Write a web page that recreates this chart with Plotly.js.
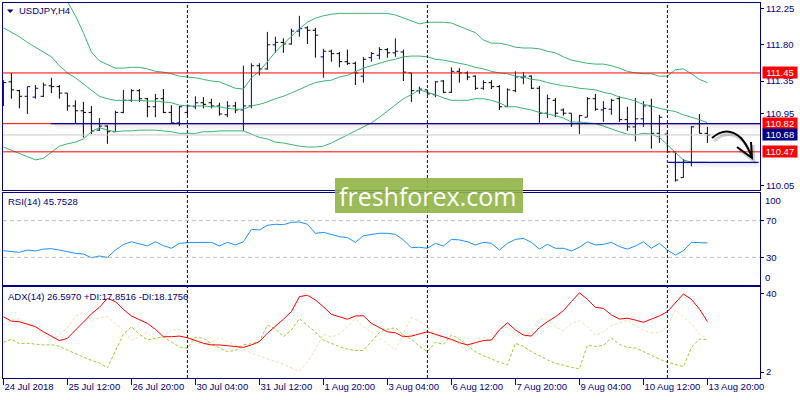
<!DOCTYPE html>
<html><head><meta charset="utf-8">
<script src="https://cdn.plot.ly/plotly-3.0.1.min.js"></script>
<style>html,body{margin:0;padding:0;background:#fff}#chart{width:800px;height:400px}</style>
</head><body><div id="chart"></div>
<script>
// ---- data (USDJPY H4, bar 0 = 24 Jul 2018 04:00) ----
const open = [111.11,111.34,111.23,111.16,111.15,111.16,111.29,111.28,111.20,111.04,
110.98,110.96,110.74,110.79,110.72,110.96,111.11,111.23,111.13,111.03,
111.13,110.96,110.83,110.96,111.03,111.08,111.08,111.04,110.93,111.04,
110.99,111.04,111.54,111.50,111.80,111.83,111.81,111.97,112.01,111.98,
111.65,111.72,111.69,111.59,111.57,111.41,111.64,111.67,111.74,111.70,
111.71,111.45,111.23,111.24,111.18,111.35,111.21,111.47,111.45,111.41,
111.26,111.33,111.28,111.03,111.23,111.39,111.41,111.26,110.95,111.11,
110.99,110.95,110.82,110.90,111.13,110.99,111.00,111.13,110.87,110.78,
110.88,111.04,110.70,110.69,110.47,110.15,110.34,110.82,110.70];
const high = [111.36,111.45,111.24,111.28,111.30,111.33,111.39,111.30,111.20,111.11,
111.09,111.04,110.89,110.80,110.98,111.24,111.25,111.25,111.14,111.19,
111.25,111.05,111.04,111.06,111.16,111.15,111.13,111.08,111.10,111.09,
111.54,111.57,111.57,111.96,111.90,111.88,112.00,112.16,112.03,112.01,
111.75,111.74,111.71,111.74,111.59,111.65,111.71,111.77,111.76,111.88,
111.74,111.45,111.28,111.24,111.35,111.36,111.52,111.51,111.47,111.42,
111.36,111.36,111.30,111.26,111.47,111.46,111.42,111.29,111.18,111.14,
111.01,110.95,110.93,111.15,111.19,111.10,111.13,111.16,111.03,111.14,
111.10,111.13,110.93,110.73,110.47,110.38,110.79,110.94,110.78];
const low = [111.04,111.13,111.01,110.94,111.13,111.15,111.20,111.13,110.98,110.82,
110.65,110.69,110.73,110.57,110.72,110.95,111.09,111.09,110.90,110.90,
110.95,110.83,110.79,110.92,111.00,111.01,111.01,110.92,110.90,110.95,
110.73,111.01,111.42,111.49,111.70,111.70,111.80,111.90,111.81,111.64,
111.39,111.59,111.52,111.55,111.30,111.33,111.59,111.62,111.64,111.65,
111.35,111.09,111.19,111.18,111.15,111.20,111.20,111.33,111.36,111.24,
111.24,111.25,110.99,111.03,111.21,111.31,111.25,110.83,110.89,110.90,
110.92,110.78,110.69,110.90,110.98,110.84,110.93,110.84,110.73,110.60,
110.78,110.51,110.58,110.46,110.10,110.15,110.29,110.70,110.58];
const close = [111.33,111.24,111.16,111.28,111.26,111.30,111.28,111.20,111.04,110.98,
110.96,110.73,110.79,110.72,110.96,111.11,111.23,111.13,111.03,111.13,
110.96,110.83,111.03,111.04,111.08,111.06,111.04,110.94,111.04,110.99,
111.04,111.54,111.50,111.80,111.83,111.81,111.97,112.00,111.98,111.92,
111.72,111.69,111.59,111.57,111.45,111.62,111.69,111.74,111.70,111.72,
111.46,111.23,111.25,111.19,111.34,111.21,111.47,111.45,111.40,111.26,
111.33,111.28,111.03,111.24,111.40,111.41,111.26,110.95,111.13,110.95,
110.95,110.82,110.92,111.13,111.00,111.01,111.11,110.87,110.78,110.88,
111.04,110.70,110.90,110.47,110.12,110.36,110.78,110.70,110.68];
const bbUpper = [112.85,112.85,112.83,112.80,112.77,112.70,112.60,112.48,112.34,112.16,
111.95,111.71,111.60,111.55,111.51,111.51,111.52,111.52,111.50,111.47,
111.46,111.44,111.41,111.40,111.39,111.37,111.35,111.34,111.30,111.26,
111.25,111.39,111.47,111.59,111.71,111.81,111.91,112.00,112.08,112.13,
112.16,112.18,112.19,112.19,112.19,112.19,112.19,112.19,112.19,112.17,
112.13,112.10,112.06,112.08,112.08,112.08,112.07,112.03,112.00,111.95,
111.86,111.82,111.82,111.80,111.77,111.76,111.76,111.75,111.72,111.70,
111.65,111.61,111.59,111.57,111.56,111.56,111.54,111.51,111.47,111.45,
111.44,111.44,111.41,111.41,111.49,111.50,111.44,111.37,111.33];
const bbMiddle = [112.01,111.96,111.90,111.83,111.77,111.72,111.65,111.54,111.45,111.39,
111.31,111.24,111.16,111.13,111.11,111.11,111.11,111.11,111.10,111.10,
111.09,111.08,111.05,111.04,111.04,111.04,111.03,111.03,111.01,111.00,
111.00,111.04,111.06,111.09,111.13,111.16,111.20,111.25,111.29,111.33,
111.35,111.36,111.40,111.42,111.47,111.51,111.54,111.57,111.60,111.62,
111.65,111.66,111.66,111.65,111.62,111.61,111.59,111.57,111.55,111.52,
111.50,111.47,111.45,111.44,111.41,111.40,111.37,111.36,111.33,111.31,
111.29,111.28,111.26,111.25,111.24,111.21,111.19,111.15,111.13,111.10,
111.06,111.04,111.01,110.99,110.97,110.93,110.90,110.87,110.83];
const bbLower = [110.53,110.49,110.46,110.42,110.37,110.39,110.47,110.54,110.57,110.59,
110.63,110.72,110.77,110.74,110.72,110.73,110.73,110.74,110.74,110.74,
110.73,110.72,110.70,110.70,110.70,110.72,110.72,110.73,110.73,110.73,
110.73,110.69,110.65,110.63,110.59,110.58,110.56,110.54,110.53,110.53,
110.54,110.58,110.63,110.68,110.73,110.78,110.83,110.90,110.98,111.05,
111.13,111.18,111.24,111.21,111.18,111.14,111.11,111.11,111.11,111.13,
111.13,111.11,111.08,111.03,111.03,111.01,110.99,110.96,110.94,110.92,
110.89,110.84,110.84,110.83,110.82,110.79,110.75,110.72,110.69,110.68,
110.70,110.69,110.65,110.56,110.46,110.37,110.34,110.34,110.34];
const rsi = [37.3,36.5,35.5,38,37,39,39.5,38,36,34.4,
33.7,29.7,31.5,30,38,44,47,45,42.4,47,
42.8,39.9,45.3,46,46.4,46.4,46.4,42.4,46.4,43.5,
47,60.5,59.8,64.9,66,65.6,68.1,68.5,66,56.2,
57.2,55,52.5,51.5,46.4,53.6,55,56.2,56.2,55,
49,40.6,41,39.9,45.3,42.4,49.6,49,47,43.5,
46.4,45.3,38,45.3,49.6,50.7,46.4,39,44.2,39.9,
39.9,37,41,47,43.5,44.2,46.4,41.7,39,42.4,
47,39.9,45.3,38,32.6,37.3,46.4,46,45.75];
const adx = [28.9,26.8,26.5,25.4,24.1,21.6,19.5,17.3,18.4,22.5,
26.5,30.3,33.5,37.9,36.3,32.5,29.3,27.3,25.7,22.8,
19.2,19.2,19.5,18.7,17.3,16,15.2,15.2,14.8,14.3,
14,15.2,16.8,20.9,24.1,27.7,31.4,38.7,39.4,37.1,
33.8,30.1,28.9,27.7,29.3,29.4,25.7,23.8,21.6,21.1,
19.2,19.5,20.5,21.6,20.4,19.2,17.9,16.3,15.2,16.3,
17.3,17.6,22.5,26,22.5,20,19.5,23.6,26.5,28.9,
31.9,36.3,40.6,37.4,33.5,33,29.8,27.8,28.2,27.3,
26.2,27.8,29.3,31.4,35.8,40,37.4,32.7,26.6];
const plusDI = [16.5,18,15.8,16,15.6,15.2,15.3,14.5,12.7,10.9,
9.3,7.7,6.4,4.1,12,20.5,24,20.5,17.6,18.5,
19.2,16.6,14.2,13.6,19,18.4,15.8,13.7,12,12.5,
15.2,15.8,16.7,24.9,23,19.2,22.5,28,24.8,21.5,
17.5,15.8,14.4,13.2,12.5,12.5,17,21.3,22.8,23.6,
20,18,14.5,11.9,16.5,15.5,20,18,15,11.9,
10,8.3,6.8,5.5,16,14.5,12,10,7.9,6.3,
5.2,4.3,3.6,15,14.5,15,18.5,15.5,14,13.7,
12,10,8.3,6.8,5.7,4.6,14,18,17.85];
const minusDI = [24.9,27.3,28,25.5,23.8,20.5,18,19.8,23.5,29,
31,27,28.5,29,25.5,22.5,17.5,19,21.5,17.8,
19,22.5,22.7,20,16.5,15.2,16.5,18.8,17,15,
13,11.3,9.8,8.4,7.3,5.8,4,2.4,7,13,
20.5,19,20.5,24,28,24,21.5,18.7,15.5,12.7,
20.9,28.5,26.8,24,20,19,17.5,15.5,11.9,17.6,
19,17,23,24,21,18,22,28,27.5,24,
22,25.7,27,24.1,20,21.5,24.5,26,27.3,24.5,
22.5,21,21.3,24,32.2,28.8,25.5,20.5,18.18];
const tickBars = [0,8,16,24,32,40,48,56,64,72,80,88];
const tickLabels = ['24 Jul 2018','25 Jul 12:00','26 Jul 20:00','30 Jul 04:00','31 Jul 12:00','1 Aug 20:00',
  '3 Aug 04:00','6 Aug 12:00','7 Aug 20:00','9 Aug 04:00','10 Aug 12:00','13 Aug 20:00'];
const weekStarts = [23,53,83];
const priceTicks = [112.25,111.80,111.35,110.95,110.05];
const redLevels = [111.45,110.82,110.47];
const bidLevel = 110.68;
const trendLevel = 110.82;
const supportLevel = 110.34;

// ---- layout helpers ----
const W=800,H=400,L=3,R=40,T=3,B=22;
const PW=W-L-R, PH=H-T-B;
const px=x=>(x-L)/PW, py=y=>(H-B-y)/PH;
const idx=open.map((_,i)=>i);
const NAVY='#000080', FONT='Liberation Sans, Arial, sans-serif';
const xr=[-0.05,-0.05+PW/8];

const traces=[
 {type:'ohlc',x:idx,open:open,high:high,low:low,close:close,xaxis:'x',yaxis:'y',tickwidth:0.35,
  increasing:{line:{color:'#00008b',width:1}},decreasing:{line:{color:'#000000',width:1}},hoverinfo:'skip'},
 {type:'scatter',mode:'lines',x:idx,y:bbUpper,xaxis:'x',yaxis:'y',line:{color:'#3cb371',width:1}},
 {type:'scatter',mode:'lines',x:idx,y:bbMiddle,xaxis:'x',yaxis:'y',line:{color:'#3cb371',width:1}},
 {type:'scatter',mode:'lines',x:idx,y:bbLower,xaxis:'x',yaxis:'y',line:{color:'#3cb371',width:1}},
 {type:'scatter',mode:'lines',x:idx,y:rsi,xaxis:'x2',yaxis:'y2',line:{color:'#1e90ff',width:1}},
 {type:'scatter',mode:'lines',x:idx,y:minusDI,xaxis:'x3',yaxis:'y3',line:{color:'#f5deb3',width:1,dash:'3px,2px'}},
 {type:'scatter',mode:'lines',x:idx,y:plusDI,xaxis:'x3',yaxis:'y3',line:{color:'#9acd32',width:1,dash:'3px,2px'}},
 {type:'scatter',mode:'lines',x:idx,y:adx,xaxis:'x3',yaxis:'y3',line:{color:'#ff0000',width:1}}
];

const tf={family:FONT,size:9.5,color:NAVY};
const xbase={range:xr,showline:true,mirror:true,linecolor:NAVY,linewidth:1,showgrid:false,zeroline:false,
  showticklabels:false,ticks:'',fixedrange:true};
const ybase={side:'right',showline:true,mirror:true,linecolor:NAVY,linewidth:1,showgrid:false,zeroline:false,
  ticks:'outside',ticklen:3,tickcolor:NAVY,tickfont:tf,fixedrange:true};

const shapes=[];
weekStarts.forEach(b=>shapes.push({type:'line',xref:'x',yref:'paper',x0:b,x1:b,y0:0,y1:1,
  line:{color:NAVY,width:1,dash:'3px,2px'}}));
shapes.push({type:'line',xref:'paper',yref:'y',x0:0,x1:1,y0:bidLevel,y1:bidLevel,line:{color:'#c8c8c8',width:1}});
redLevels.forEach(v=>shapes.push({type:'line',xref:'paper',yref:'y',x0:0,x1:1,y0:v,y1:v,line:{color:'#ff0000',width:1}}));
// shadows + navy trend lines
[[trendLevel,5.9,xr[1]],[supportLevel,83.1,94.4]].forEach(([v,a,b])=>{
  for(let k=1;k<=5;k++){
    shapes.push({type:'line',xref:'x',yref:'y',ysizemode:'pixel',yanchor:v,x0:a+0.5,x1:b,y0:-k,y1:-k,
      line:{color:'rgba(0,0,0,'+(0.07-0.011*k).toFixed(3)+')',width:1.5}});
  }
  shapes.push({type:'line',xref:'x',yref:'y',x0:a,x1:b,y0:v,y1:v,line:{color:'#0000a0',width:1.2}});
});
// RSI levels
[70,30].forEach(v=>shapes.push({type:'line',xref:'paper',yref:'y2',x0:0,x1:1,y0:v,y1:v,
  line:{color:'#c0c0c0',width:1,dash:'4px,3px'}}));
// symbol triangle
shapes.push({type:'path',xref:'paper',yref:'paper',
  path:`M ${px(7)} ${py(9.5)} L ${px(13.5)} ${py(9.5)} L ${px(10.2)} ${py(13)} Z`,fillcolor:NAVY,line:{width:0}});
// hand-drawn arrow
function arrowPath(dx,dy){
  const P=(x,y)=>`${px(x+dx)},${py(y+dy)}`;
  return `M ${P(712,138)} Q ${P(727,125)} ${P(741,138)} Q ${P(748,146)} ${P(752,158)} M ${P(737,147)} L ${P(752,158)} L ${P(751,142)}`;
}
shapes.push({type:'path',xref:'paper',yref:'paper',path:arrowPath(2,3),line:{color:'rgba(0,0,0,0.18)',width:3}});
shapes.push({type:'path',xref:'paper',yref:'paper',path:arrowPath(0,0),line:{color:'#000000',width:2}});
// watermark box
shapes.push({type:'rect',xref:'paper',yref:'paper',x0:px(335),x1:px(523),y0:py(213),y1:py(178),
  fillcolor:'rgba(144,179,70,0.9)',line:{width:0}});

const annotations=[
 {xref:'paper',yref:'paper',x:px(17),y:py(11),xanchor:'left',yanchor:'middle',text:'USDJPY,H4',showarrow:false,font:tf},
 {xref:'paper',yref:'paper',x:px(6),y:py(201.5),xanchor:'left',yanchor:'middle',text:'RSI(14) 45.7528',showarrow:false,font:tf},
 {xref:'paper',yref:'paper',x:px(6),y:py(296.5),xanchor:'left',yanchor:'middle',text:'ADX(14) 26.5970 +DI:17.8516 -DI:18.1756',showarrow:false,font:tf},
 {xref:'paper',yref:'y2',x:1,y:100,xanchor:'left',yanchor:'top',xshift:3,text:'100',showarrow:false,font:tf},
 {xref:'paper',yref:'y2',x:1,y:0,xanchor:'left',yanchor:'bottom',xshift:3,text:'0',showarrow:false,font:tf},
 {xref:'paper',yref:'paper',x:px(427),y:py(195.5),xanchor:'center',yanchor:'middle',text:'freshforex.com',showarrow:false,
  font:{family:'Open Sans, sans-serif',size:25,color:'#ffffff'}}
];
[[111.45,'#ff0000'],[110.82,'#ff0000'],[110.68,'#000080'],[110.47,'#ff0000']].forEach(([v,c])=>{
  annotations.push({xref:'paper',yref:'y',x:1,y:v,xanchor:'left',yanchor:'middle',xshift:2,text:v.toFixed(2),
    showarrow:false,bgcolor:c,width:34,height:11,borderpad:0,font:{family:FONT,size:9.5,color:'#ffffff'}});
});

const layout={
  width:W,height:H,margin:{l:L,r:R,t:T,b:B},paper_bgcolor:'#ffffff',plot_bgcolor:'#ffffff',
  showlegend:false,hovermode:false,
  xaxis:Object.assign({},xbase,{anchor:'y',rangeslider:{visible:false}}),
  xaxis2:Object.assign({},xbase,{anchor:'y2'}),
  xaxis3:Object.assign({},xbase,{anchor:'y3',showticklabels:true,tickvals:tickBars,ticktext:tickLabels,
    ticks:'outside',ticklen:6,tickcolor:NAVY,ticklabelposition:'outside right',tickangle:0,tickfont:tf}),
  yaxis:Object.assign({},ybase,{anchor:'x',domain:[py(190),1],range:[109.996,112.319],
    tickvals:priceTicks,ticktext:priceTicks.map(v=>v.toFixed(2))}),
  yaxis2:Object.assign({},ybase,{anchor:'x2',domain:[py(285),py(193)],range:[0,100],tickvals:[70,30]}),
  yaxis3:Object.assign({},ybase,{anchor:'x3',domain:[0,py(287)],range:[-0.9,43.4],tickvals:[40,2]}),
  shapes:shapes,annotations:annotations
};
Plotly.newPlot('chart',traces,layout,{staticPlot:true,displayModeBar:false});
</script></body></html>
